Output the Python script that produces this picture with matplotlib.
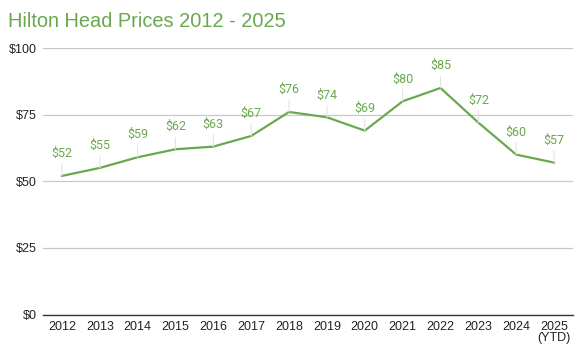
import matplotlib
matplotlib.use('Agg')
import matplotlib.pyplot as plt

years = ['2012', '2013', '2014', '2015', '2016', '2017', '2018', '2019',
         '2020', '2021', '2022', '2023', '2024', '2025\n(YTD)']
prices = [52, 55, 59, 62, 63, 67, 76, 74, 69, 80, 85, 72, 60, 57]
y_ticks = [0, 25, 50, 75, 100]

green = '#6aa84f'

fig = plt.figure(figsize=(5.88, 3.6), dpi=100)
ax = fig.add_axes([43 / 588, 1 - 314.5 / 360, 530 / 588, 266.5 / 360])

x = list(range(len(years)))
ax.plot(x, prices, color=green, linewidth=1.6, zorder=3)

for xi, p in zip(x, prices):
    ax.annotate(f'${p}', xy=(xi, p), xytext=(0, 11.5), textcoords='offset points',
                ha='center', va='bottom', color=green, fontsize=9,
                family='Roboto',
                arrowprops=dict(arrowstyle='-', color='#e3e3e3', lw=0.8,
                                shrinkA=1, shrinkB=0))

ax.set_xlim(-0.5, len(years) - 0.5)
ax.set_ylim(0, 100)
ax.set_yticks(y_ticks)
ax.set_yticklabels([f'${v}' for v in y_ticks])
ax.set_xticks(x)
ax.set_xticklabels(years)
ax.grid(axis='y', color='#c8c8c8', linewidth=0.9)
ax.set_axisbelow(True)
for side in ['top', 'right', 'left']:
    ax.spines[side].set_visible(False)
ax.spines['bottom'].set_color('#333333')
ax.spines['bottom'].set_linewidth(1.0)
ax.tick_params(length=0, labelsize=9, colors='#222222')
ax.tick_params(axis='y', pad=4.5)
ax.tick_params(axis='x', pad=4.5)
for lbl in ax.get_xticklabels() + ax.get_yticklabels():
    lbl.set_family('Liberation Sans')
for lbl in ax.get_xticklabels():
    lbl.set_linespacing(0.95)

fig.text(8 / 588, 1 - 27 / 360, 'Hilton Head Prices 2012 - 2025', color=green,
         fontsize=14.4, family='Liberation Sans', va='baseline', ha='left')

fig.savefig('out.png', dpi=100)
